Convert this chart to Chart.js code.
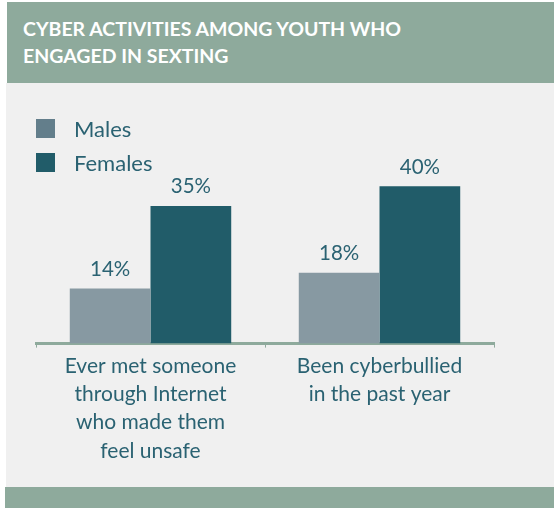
<!DOCTYPE html>
<html>
<head>
<meta charset="utf-8">
<script src="https://cdn.jsdelivr.net/npm/chart.js@4"></script>
<style>
  body { margin: 0; background: #fff; width: 554px; height: 508px; overflow: hidden; font-family: Lato, "Open Sans", sans-serif; }
  #header { position: absolute; left: 7px; top: 2px; width: 547px; height: 81px; background: #8eaa9c; }
  #header h1 { margin: 0; position: absolute; left: 16px; top: 13px; color: #fff; font-size: 19.5px; font-weight: bold; line-height: 27px; }
  #panel { position: absolute; left: 6px; top: 83px; width: 548px; height: 404px; background: #f0f0f0; }
  #footer { position: absolute; left: 5px; top: 487px; width: 549px; height: 21px; background: #8eaa9c; }
  .legend { position: absolute; left: 36px; font-size: 22px; line-height: 19px; color: #2a6272; }
  .legend span { display: inline-block; width: 19px; height: 19px; vertical-align: top; margin-right: 19px; }
  #chart { position: absolute; left: 0; top: 0; }
</style>
</head>
<body>
<div id="header"><h1>CYBER ACTIVITIES AMONG YOUTH WHO<br>ENGAGED IN SEXTING</h1></div>
<div id="panel"></div>
<div id="footer"></div>
<canvas id="chart" width="554" height="508"></canvas>
<div class="legend" style="top:119px"><span style="background:#637e8b"></span>Males</div>
<div class="legend" style="top:153px"><span style="background:#215c69"></span>Females</div>
<script>
const categories = [
    ["Ever met someone", "through Internet", "who made them", "feel unsafe"],
    ["Been cyberbullied", "in the past year"],
];
const males = [14, 18];
const females = [35, 40];

const TEXT_COLOR = "#2a6272";
const FONT = "Lato, 'Open Sans', sans-serif";

// draws the percent above each bar
const valueLabels = {
    id: "valueLabels",
    afterDatasetsDraw(chart) {
        const ctx = chart.ctx;
        ctx.save();
        ctx.font = "20.5px " + FONT;
        ctx.fillStyle = TEXT_COLOR;
        ctx.textAlign = "center";
        ctx.textBaseline = "bottom";
        chart.data.datasets.forEach((ds, i) => {
            chart.getDatasetMeta(i).data.forEach((bar, j) => {
                ctx.fillText(ds.data[j] + "%", bar.x, bar.y - 9);
            });
        });
        ctx.restore();
    },
};

new Chart(document.getElementById("chart"), {
    type: "bar",
    data: {
        labels: categories,
        datasets: [
            { label: "Males", data: males, backgroundColor: "#8799a2" },
            { label: "Females", data: females, backgroundColor: "#215c69" },
        ],
    },
    options: {
        responsive: false,
        animation: false,
        devicePixelRatio: 1,
        layout: { padding: { top: 147, left: 36, right: 60, bottom: 39 } },
        categoryPercentage: 0.705,
        barPercentage: 1,
        plugins: {
            legend: { display: false },
            tooltip: { enabled: false },
        },
        scales: {
            y: { display: false, min: 0, max: 50 },
            x: {
                border: { color: "#8eaa9c", width: 3 },
                grid: { drawOnChartArea: false, color: "#8eaa9c", tickLength: 4 },
                ticks: {
                    color: TEXT_COLOR,
                    padding: 4,
                    maxRotation: 0,
                    font: { family: FONT, size: 21, lineHeight: 1.35 },
                },
            },
        },
    },
    plugins: [valueLabels],
});
</script>
</body>
</html>
